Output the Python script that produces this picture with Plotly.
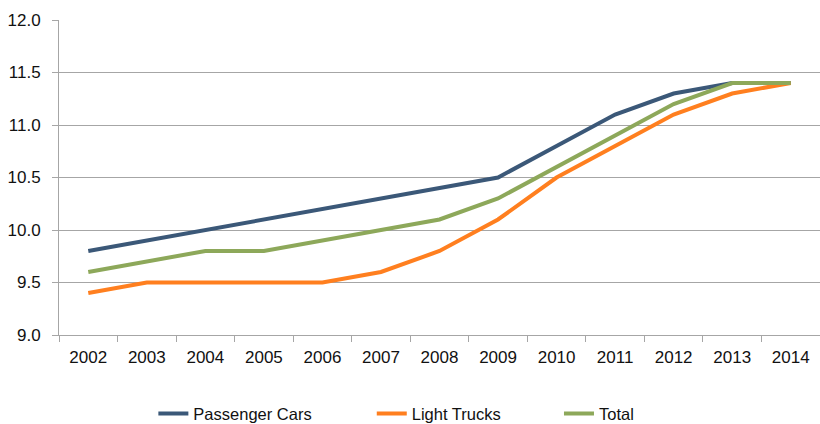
import plotly.graph_objects as go

years = ["2002", "2003", "2004", "2005", "2006", "2007", "2008", "2009", "2010", "2011", "2012", "2013", "2014"]
passenger_cars = [9.8, 9.9, 10.0, 10.1, 10.2, 10.3, 10.4, 10.5, 10.8, 11.1, 11.3, 11.4, 11.4]
light_trucks = [9.4, 9.5, 9.5, 9.5, 9.5, 9.6, 9.8, 10.1, 10.5, 10.8, 11.1, 11.3, 11.4]
total = [9.6, 9.7, 9.8, 9.8, 9.9, 10.0, 10.1, 10.3, 10.6, 10.9, 11.2, 11.4, 11.4]
y_ticks = [9.0, 9.5, 10.0, 10.5, 11.0, 11.5, 12.0]

series = [
    ("Passenger Cars", passenger_cars, "#3B5878", "legend", 0.124),
    ("Light Trucks", light_trucks, "#FF7F1F", "legend2", 0.411),
    ("Total", total, "#8DA85A", "legend3", 0.657),
]

fig = go.Figure()
legend_cfg = {}
for name, vals, color, leg, lx in series:
    fig.add_trace(go.Scatter(x=years, y=vals, name=name, mode="lines",
                             line=dict(color=color, width=4), legend=leg))
    legend_cfg[leg] = dict(orientation="h", x=lx, xanchor="left", y=-0.25, yanchor="middle",
                           font=dict(size=16.5), itemwidth=30, bgcolor="rgba(0,0,0,0)")

grid = "#A6A6A6"
fig.update_layout(
    width=820, height=424,
    margin=dict(l=59, r=0, t=20, b=89, autoexpand=False),
    paper_bgcolor="white", plot_bgcolor="white",
    font=dict(family="Liberation Sans, Arial, sans-serif", size=17, color="#111111"),
    showlegend=True,
    xaxis=dict(type="category", range=[-0.5, 12.5], showgrid=False,
               showline=True, linecolor=grid, linewidth=1, automargin=False,
               ticks="outside", tickson="boundaries", ticklen=6, tickcolor=grid,
               ticklabelstandoff=7, tickfont=dict(size=17)),
    yaxis=dict(range=[9.0, 12.0], tickvals=y_ticks, tickformat=".1f",
               showgrid=True, gridcolor=grid, gridwidth=1, automargin=False,
               showline=True, linecolor=grid, linewidth=1,
               ticks="outside", ticklen=6, tickcolor=grid, zeroline=False,
               ticklabelstandoff=8, tickfont=dict(size=17)),
    **legend_cfg,
)

fig.write_html("out.html")
